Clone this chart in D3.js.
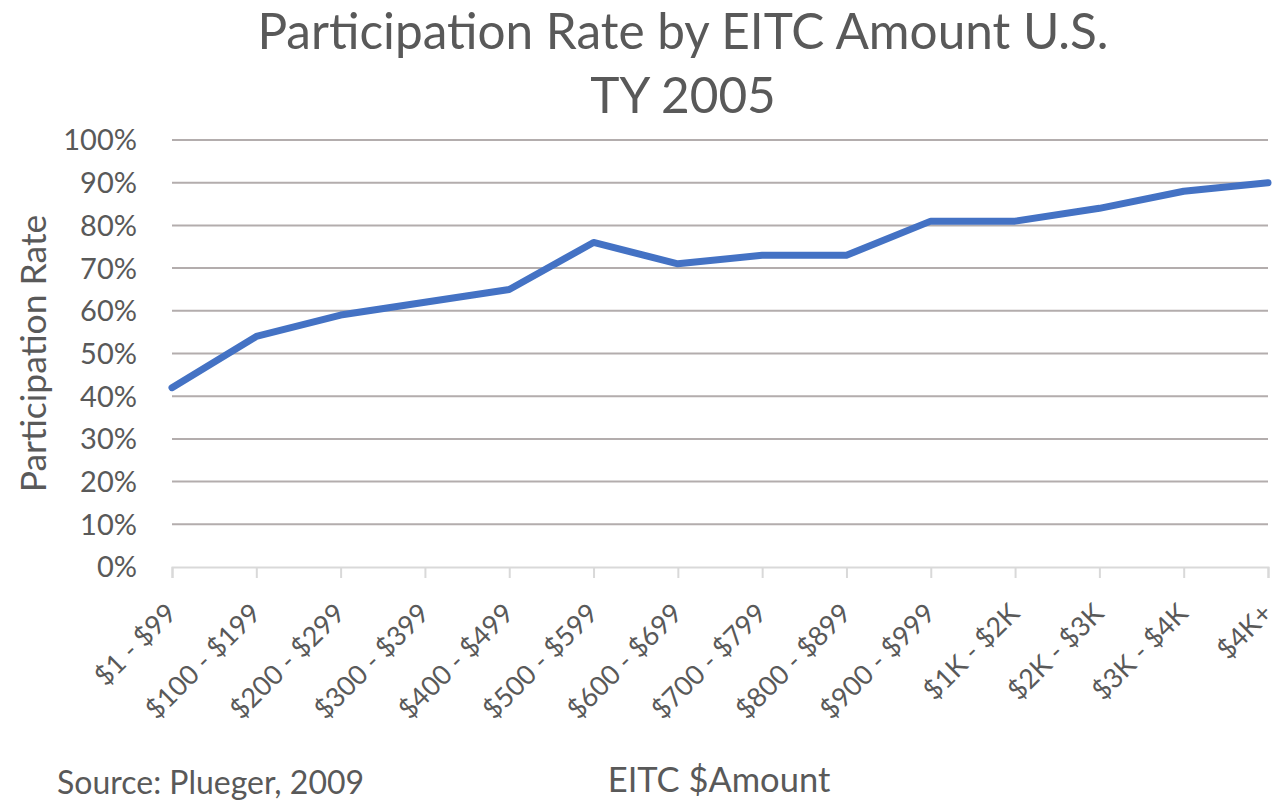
<!DOCTYPE html>
<html>
<head>
<meta charset="utf-8">
<script src="https://cdn.jsdelivr.net/npm/d3@7"></script>
<style>
  body { margin: 0; background: #fff; }
  #chart text { font-family: Lato, "Open Sans", sans-serif; fill: #595959; }
</style>
</head>
<body>
<div id="chart"></div>
<script>
// EITC participation by credit amount
const categories = ['$1 - $99', '$100 - $199', '$200 - $299', '$300 - $399', '$400 - $499',
  '$500 - $599', '$600 - $699', '$700 - $799', '$800 - $899', '$900 - $999',
  '$1K - $2K', '$2K - $3K', '$3K - $4K', '$4K+'];
const rates = [42, 54, 59, 62, 65, 76, 71, 73, 73, 81, 81, 84, 88, 90];
const yTicks = [0, 10, 20, 30, 40, 50, 60, 70, 80, 90, 100];
const titleLines = ['Participation Rate by EITC Amount U.S.', 'TY 2005'];

const width = 1286, height = 800;
const margin = { left: 172, right: 18, top: 140, bottom: 233 };

const svg = d3.select('#chart')
  .append('svg')
  .attr('width', width)
  .attr('height', height);

let x = d3.scalePoint()
  .domain(categories)
  .range([margin.left, width - margin.right]);

let y = d3.scaleLinear()
  .domain([0, 100])
  .range([height - margin.bottom, margin.top]);

// gridlines
svg.append('g')
  .selectAll('line')
  .data(yTicks.slice(1))
  .enter()
  .append('line')
  .attr('x1', margin.left)
  .attr('x2', width - margin.right)
  .attr('y1', d => y(d))
  .attr('y2', d => y(d))
  .attr('stroke', '#b3adad')
  .attr('stroke-width', 2);

// y axis labels
svg.append('g')
  .selectAll('text')
  .data(yTicks)
  .enter()
  .append('text')
  .attr('x', 137)
  .attr('y', d => y(d))
  .attr('dy', '0.36em')
  .attr('text-anchor', 'end')
  .style('font-size', '29px')
  .text(d => d + '%');

// x axis line + ticks
let xaxis = svg.append('g')
  .attr('transform', `translate(0, ${y(0)})`)
  .call(d3.axisBottom(x).tickSize(11).tickFormat(''));
xaxis.select('.domain').attr('stroke', '#d9d9d9').attr('stroke-width', 2);
xaxis.selectAll('.tick line').attr('stroke', '#d9d9d9').attr('stroke-width', 2);

// rotated category labels
svg.append('g')
  .selectAll('text')
  .data(categories)
  .enter()
  .append('text')
  .attr('transform', d => `translate(${x(d) + 6}, ${y(0) + 48}) rotate(-45)`)
  .attr('text-anchor', 'end')
  .style('font-size', '27px')
  .text(d => d);

// the series
let line = d3.line()
  .x((d, i) => x(categories[i]))
  .y(d => y(d));

svg.append('path')
  .datum(rates)
  .attr('d', line)
  .attr('fill', 'none')
  .attr('stroke', '#4472c4')
  .attr('stroke-width', 7)
  .attr('stroke-linejoin', 'round')
  .attr('stroke-linecap', 'round');

// title
svg.append('g')
  .selectAll('text')
  .data(titleLines)
  .enter()
  .append('text')
  .attr('x', 683)
  .attr('y', (d, i) => 49 + i * 64)
  .attr('text-anchor', 'middle')
  .style('font-size', '49.5px')
  .text(d => d);

// axis titles
svg.append('text')
  .attr('transform', `translate(46, ${(y(0) + y(100)) / 2}) rotate(-90)`)
  .attr('text-anchor', 'middle')
  .style('font-size', '35.5px')
  .text('Participation Rate');

svg.append('text')
  .attr('x', 719)
  .attr('y', 792)
  .attr('text-anchor', 'middle')
  .style('font-size', '34.5px')
  .text('EITC $Amount');

svg.append('text')
  .attr('x', 57)
  .attr('y', 794)
  .style('font-size', '32px')
  .text('Source: Plueger, 2009');
</script>
</body>
</html>
